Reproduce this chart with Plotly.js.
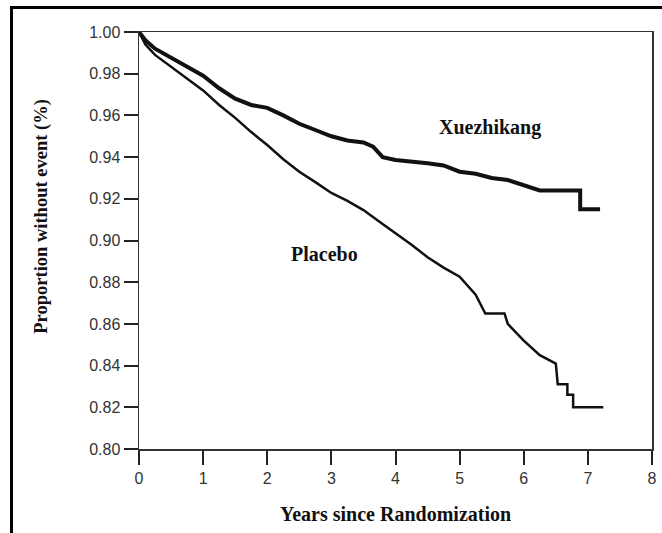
<!DOCTYPE html>
<html>
<head>
<meta charset="utf-8">
<script src="https://cdn.plot.ly/plotly-3.0.1.min.js"></script>
<style>html,body{margin:0;padding:0;background:#fff;}#chart{width:662px;height:533px;}</style>
</head>
<body>
<div id="chart"></div>
<script>
// Xuezhikang arm (years, proportion without event)
var xzkYears = [0, 0.1, 0.25, 0.5, 0.75, 1, 1.25, 1.5, 1.75, 2, 2.25, 2.5, 2.75, 3, 3.25, 3.5, 3.65, 3.8, 4, 4.25, 4.5, 4.75, 5, 5.25, 5.5, 5.75, 6, 6.25, 6.5, 6.88, 6.88, 7.19];
var xzkValues = [1.000, 0.996, 0.992, 0.9875, 0.983, 0.979, 0.973, 0.968, 0.965, 0.9636, 0.960, 0.956, 0.953, 0.950, 0.948, 0.947, 0.945, 0.940, 0.9386, 0.938, 0.937, 0.936, 0.933, 0.932, 0.930, 0.929, 0.9266, 0.924, 0.924, 0.924, 0.915, 0.915];

// Placebo arm
var plcYears = [0, 0.1, 0.25, 0.5, 0.75, 1, 1.25, 1.5, 1.75, 2, 2.25, 2.5, 2.75, 3, 3.25, 3.5, 3.75, 4, 4.25, 4.5, 4.75, 5, 5.25, 5.4, 5.7, 5.75, 6, 6.25, 6.5, 6.53, 6.68, 6.68, 6.77, 6.77, 7.24];
var plcValues = [1.000, 0.994, 0.989, 0.9834, 0.978, 0.972, 0.965, 0.9588, 0.952, 0.9458, 0.939, 0.933, 0.928, 0.9228, 0.919, 0.9146, 0.909, 0.9036, 0.898, 0.892, 0.887, 0.8826, 0.874, 0.865, 0.865, 0.860, 0.852, 0.845, 0.841, 0.831, 0.831, 0.826, 0.826, 0.820, 0.820];

var xTicks = [0, 1, 2, 3, 4, 5, 6, 7, 8];
var yTicks = [0.80, 0.82, 0.84, 0.86, 0.88, 0.90, 0.92, 0.94, 0.96, 0.98, 1.00];
var yTickLabels = ["0.80", "0.82", "0.84", "0.86", "0.88", "0.90", "0.92", "0.94", "0.96", "0.98", "1.00"];

var traces = [
  {x: xzkYears, y: xzkValues, mode: 'lines', name: 'Xuezhikang',
   line: {color: '#111', width: 4, shape: 'linear'}, hoverinfo: 'x+y'},
  {x: plcYears, y: plcValues, mode: 'lines', name: 'Placebo',
   line: {color: '#111', width: 2.5, shape: 'linear'}, hoverinfo: 'x+y'}
];

var serif = 'Liberation Serif, Times New Roman, serif';
var sans = 'Liberation Sans, Arial, sans-serif';

var layout = {
  width: 662, height: 533,
  margin: {l: 139, r: 10, t: 32, b: 84},
  paper_bgcolor: '#fff', plot_bgcolor: '#fff',
  showlegend: false,
  xaxis: {
    range: [0, 8], tickvals: xTicks, ticktext: xTicks.map(String),
    ticks: 'outside', ticklen: 14, tickwidth: 2, tickcolor: '#222',
    showline: true, linecolor: '#333', linewidth: 1.5, mirror: true,
    showgrid: false, zeroline: false,
    tickfont: {family: sans, size: 16, color: '#333'}
  },
  yaxis: {
    range: [0.80, 1.00], tickvals: yTicks, ticktext: yTickLabels,
    ticks: 'outside', ticklen: 14, tickwidth: 2, tickcolor: '#222',
    showline: true, linecolor: '#333', linewidth: 1.5, mirror: true,
    showgrid: false, zeroline: false,
    tickfont: {family: sans, size: 16, color: '#333'}
  },
  annotations: [
    {x: 0.5, y: -0.156, xref: 'paper', yref: 'paper', text: '<b>Years since Randomization</b>', showarrow: false,
     xanchor: 'center', yanchor: 'middle', font: {family: serif, size: 20, color: '#111'}},
    {x: -0.19, y: 0.556, xref: 'paper', yref: 'paper', text: '<b>Proportion without event (%)</b>', showarrow: false,
     textangle: -90, xanchor: 'center', yanchor: 'middle', font: {family: serif, size: 18.5, color: '#111'}},
    {x: 5.48, y: 0.9544, xref: 'x', yref: 'y', text: '<b>Xuezhikang</b>', showarrow: false,
     font: {family: serif, size: 20, color: '#111'}},
    {x: 2.9, y: 0.8935, xref: 'x', yref: 'y', text: '<b>Placebo</b>', showarrow: false,
     font: {family: serif, size: 20, color: '#111'}}
  ],
  shapes: [
    {type: 'line', xref: 'paper', yref: 'paper', x0: -0.2515, x1: 1.02, y0: 1.0588, y1: 1.0588,
     line: {color: '#000', width: 3}},
    {type: 'line', xref: 'paper', yref: 'paper', x0: -0.2485, x1: -0.2485, y0: 1.0588, y1: -0.21,
     line: {color: '#000', width: 3}}
  ]
};

Plotly.newPlot('chart', traces, layout, {displayModeBar: false, staticPlot: true});
</script>
</body>
</html>
